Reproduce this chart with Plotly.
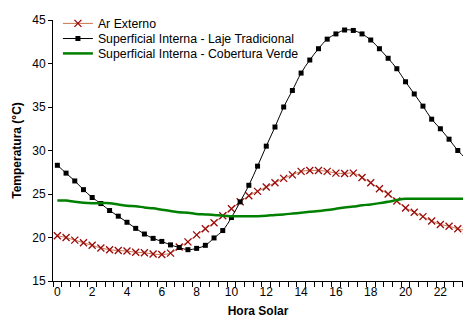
import plotly.graph_objects as go

hours = [h * 0.5 for h in range(48)]

ar_externo = [20.2, 20.0, 19.7, 19.4, 19.1, 18.8, 18.6, 18.5, 18.45, 18.3, 18.25, 18.1,
              18.05, 18.2, 18.9, 19.5, 20.3, 21.0, 21.7, 22.5, 23.3, 24.1, 24.8, 25.3,
              25.8, 26.3, 26.8, 27.2, 27.6, 27.7, 27.7, 27.6, 27.4, 27.35, 27.4, 26.9,
              26.3, 25.6, 25.0, 24.2, 23.4, 22.9, 22.4, 21.9, 21.5, 21.3, 21.0, 20.8]

laje_tradicional = [28.3, 27.4, 26.5, 25.5, 24.6, 23.9, 23.1, 22.45, 21.75, 21.05, 20.4, 19.9,
                    19.55, 19.15, 18.85, 18.6, 18.75, 19.1, 19.95, 20.8, 22.3, 24.1, 26.0, 28.2,
                    30.5, 32.7, 35.0, 36.9, 38.9, 40.4, 41.7, 42.8, 43.4, 43.85, 43.8, 43.4,
                    42.7, 41.7, 40.6, 39.4, 37.9, 36.5, 35.1, 33.6, 32.5, 31.3, 30.0, 29.0]

cobertura_verde = [24.25, 24.25, 24.1, 24.0, 23.95, 23.95, 23.95, 23.8, 23.65, 23.6, 23.45, 23.35,
                   23.2, 23.05, 22.9, 22.85, 22.7, 22.65, 22.6, 22.5, 22.45, 22.45, 22.45, 22.45,
                   22.5, 22.6, 22.65, 22.75, 22.85, 22.95, 23.05, 23.15, 23.3, 23.45, 23.55, 23.7,
                   23.8, 23.95, 24.1, 24.3, 24.45, 24.45, 24.45, 24.45, 24.45, 24.45, 24.45, 24.45]

names = ["Ar Externo", "Superficial Interna - Laje Tradicional", "Superficial Interna - Cobertura Verde"]
x_labels = [str(h) for h in range(0, 24, 2)]
x_label_vals = list(range(0, 24, 2))
minor_tick_vals = [h - 0.25 for h in hours] + [23.75]
y_ticks = [15, 20, 25, 30, 35, 40, 45]

FONT = "Liberation Sans, Arial, sans-serif"

fig = go.Figure()
fig.add_trace(go.Scatter(
    x=hours, y=ar_externo, name=names[0], mode="lines+markers", legend="legend",
    line=dict(color="#c8764e", width=1, shape="spline"),
    marker=dict(symbol="x-thin", size=7, line=dict(color="#9b0a0a", width=1.3), color="#9b0a0a"),
))
fig.add_trace(go.Scatter(
    x=hours, y=laje_tradicional, name=names[1], mode="lines+markers", legend="legend2",
    line=dict(color="black", width=1, shape="spline"),
    marker=dict(symbol="square", size=5, color="black"),
))
fig.add_trace(go.Scatter(
    x=hours, y=cobertura_verde, name=names[2], mode="lines", legend="legend3",
    line=dict(color="#008000", width=2.5, shape="spline"),
))

def leg(y):
    return dict(x=0.012, y=y, xanchor="left", yanchor="middle",
                bgcolor="rgba(0,0,0,0)", font=dict(size=12.3), itemwidth=30)

fig.update_layout(
    width=463, height=327,
    margin=dict(l=53, r=0, t=20, b=46),
    paper_bgcolor="white", plot_bgcolor="white",
    font=dict(family=FONT, size=12, color="black"),
    showlegend=True,
    legend=leg(0.987),
    legend2=leg(0.929),
    legend3=leg(0.872),
    xaxis=dict(
        range=[-0.25, 23.3], showgrid=False, zeroline=False,
        showline=True, linecolor="black", linewidth=1,
        tickvals=x_label_vals, ticktext=x_labels, ticks="",
        minor=dict(tickvals=minor_tick_vals, ticks="outside", ticklen=5, tickcolor="black", showgrid=False),
        title=dict(text="<b>Hora Solar</b>", standoff=8, font=dict(size=12)),
        tickfont=dict(size=12),
    ),
    yaxis=dict(
        range=[15, 45], showgrid=False, zeroline=False,
        showline=True, linecolor="black", linewidth=1,
        tickvals=y_ticks, ticks="outside", ticklen=4, tickcolor="black",
        title=dict(text="<b>Temperatura (°C)</b>", standoff=8, font=dict(size=12)),
        tickfont=dict(size=12),
    ),
)

fig.write_html("out.html")
